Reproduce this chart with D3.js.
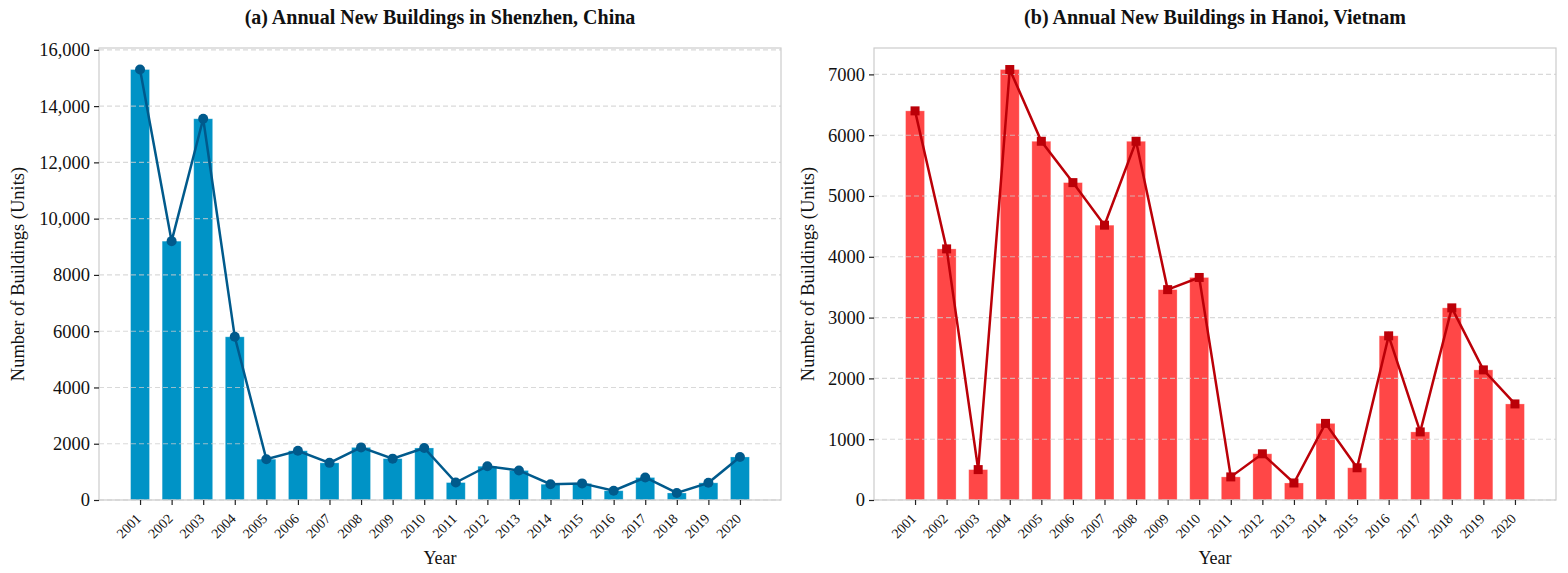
<!DOCTYPE html>
<html><head><meta charset="utf-8">
<script src="https://cdn.jsdelivr.net/npm/d3@7"></script>
<style>body{margin:0;background:#fff}svg{display:block}</style>
</head><body>
<svg id="c" width="1568" height="573"></svg>
<script>
const years = ["2001","2002","2003","2004","2005","2006","2007","2008","2009","2010","2011","2012","2013","2014","2015","2016","2017","2018","2019","2020"];
const shenzhen = [15300,9200,13550,5800,1450,1750,1320,1870,1470,1850,620,1200,1050,560,590,330,800,250,610,1530];
const hanoi = [6400,4130,500,7080,5900,5220,4520,5900,3460,3660,380,760,280,1260,530,2700,1120,3160,2140,1580];
const shenzhenTicks = [0,2000,4000,6000,8000,10000,12000,14000,16000];
const hanoiTicks = [0,1000,2000,3000,4000,5000,6000,7000];
const titles = ["(a) Annual New Buildings in Shenzhen, China","(b) Annual New Buildings in Hanoi, Vietnam"];

const svg = d3.select("#c");
const font = "'Liberation Serif','Times New Roman',serif";

function panel(cfg){
  const {x0,x1,y0,y1,data,ticks,title,bar,line,marker,fmt,ylabX} = cfg;
  const g = svg.append("g");
  const n = data.length;
  const x = d3.scaleLinear().domain([-1.3, n-1+1.3]).range([x0,x1]);
  const bw = (x(1)-x(0))*0.6;
  const ymax = d3.max(data)*1.05;
  const y = d3.scaleLinear().domain([0,ymax]).range([y1,y0]);

  g.selectAll("rect.bar").data(data).enter().append("rect")
    .attr("x",(d,i)=>x(i)-bw/2).attr("width",bw)
    .attr("y",d=>y(d)).attr("height",d=>y(0)-y(d))
    .attr("fill",bar).attr("stroke","rgba(255,255,255,0.35)").attr("stroke-width",0.8);

  g.selectAll("line.grid").data(ticks).enter().append("line")
    .attr("x1",x0).attr("x2",x1).attr("y1",d=>y(d)).attr("y2",d=>y(d))
    .attr("stroke","#cccccc").attr("stroke-opacity",0.75).attr("stroke-width",1.1)
    .attr("stroke-dasharray","5,3");

  const lg = d3.line().x((d,i)=>x(i)).y(d=>y(d));
  g.append("path").datum(data).attr("d",lg).attr("fill","none")
    .attr("stroke",line).attr("stroke-width",2.5);
  if(marker==="circle"){
    g.selectAll("circle.m").data(data).enter().append("circle")
      .attr("cx",(d,i)=>x(i)).attr("cy",d=>y(d)).attr("r",5).attr("fill",line);
  } else {
    g.selectAll("rect.m").data(data).enter().append("rect")
      .attr("x",(d,i)=>x(i)-4.5).attr("y",d=>y(d)-4.5).attr("width",9).attr("height",9).attr("fill",line);
  }

  g.append("rect").attr("x",x0).attr("y",y0).attr("width",x1-x0).attr("height",y1-y0)
    .attr("fill","none").attr("stroke","#cccccc").attr("stroke-width",1.2);

  const ya = d3.axisLeft(y).tickValues(ticks).tickFormat(fmt).tickSize(5).tickPadding(4);
  const yg = g.append("g").attr("transform",`translate(${x0},0)`).call(ya);
  yg.select(".domain").remove();
  yg.selectAll(".tick line").attr("stroke","#222").attr("stroke-width",1.2);
  yg.selectAll(".tick text").attr("font-family",font).attr("font-size",18.5).attr("fill","#111");

  const xa = d3.axisBottom(x).tickValues(d3.range(n)).tickFormat(i=>years[i]).tickSize(5).tickPadding(3);
  const xg = g.append("g").attr("transform",`translate(0,${y1})`).call(xa);
  xg.select(".domain").remove();
  xg.selectAll(".tick line").attr("stroke","#222").attr("stroke-width",1.2);
  xg.selectAll(".tick text").attr("font-family",font).attr("font-size",14).attr("fill","#111")
    .attr("text-anchor","end").attr("dy","0.35em").attr("y",0)
    .attr("transform","translate(-2,16) rotate(-45)");

  svg.append("text").attr("x",(x0+x1)/2).attr("y",24).attr("text-anchor","middle")
    .attr("font-family",font).attr("font-weight","bold").attr("font-size",20).attr("fill","#111").text(title);
  svg.append("text").attr("x",(x0+x1)/2).attr("y",564).attr("text-anchor","middle")
    .attr("font-family",font).attr("font-size",18).attr("fill","#111").text("Year");
  svg.append("text").attr("transform",`translate(${ylabX},${(y0+y1)/2}) rotate(-90)`).attr("text-anchor","middle")
    .attr("font-family",font).attr("font-size",18.5).attr("fill","#111").text("Number of Buildings (Units)");
}

panel({x0:99,x1:781,y0:48,y1:500,data:shenzhen,ticks:shenzhenTicks,title:titles[0],
  bar:"#0093c6",line:"#005a8c",marker:"circle",fmt:d=>d>=10000?d3.format(",")(d):String(d),ylabX:24});
panel({x0:874,x1:1556,y0:48,y1:500,data:hanoi,ticks:hanoiTicks,title:titles[1],
  bar:"#ff4747",line:"#bb0008",marker:"square",fmt:d=>String(d),ylabX:814});
</script>
</body></html>
